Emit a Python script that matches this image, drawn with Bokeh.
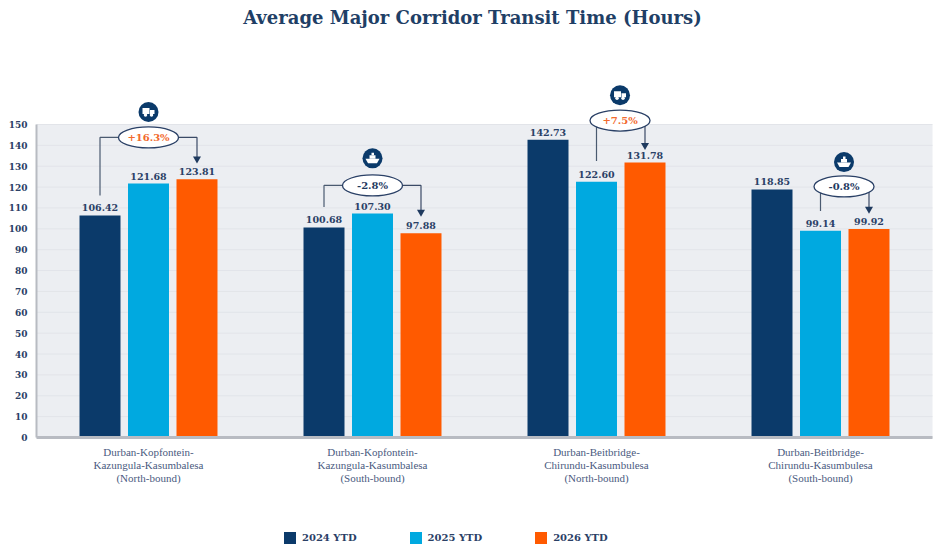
from bokeh.plotting import figure
from bokeh.embed import file_html
from bokeh.resources import INLINE
from bokeh.core.properties import value
from bokeh.models import Legend, LegendItem, FixedTicker, Range1d

title = "Average Major Corridor Transit Time (Hours)"
corridors = ["Durban-Kopfontein-\nKazungula-Kasumbalesa\n(North-bound)",
             "Durban-Kopfontein-\nKazungula-Kasumbalesa\n(South-bound)",
             "Durban-Beitbridge-\nChirundu-Kasumbulesa\n(North-bound)",
             "Durban-Beitbridge-\nChirundu-Kasumbulesa\n(South-bound)"]
series_names = ["2024 YTD", "2025 YTD", "2026 YTD"]
y2024 = [106.42, 100.68, 142.73, 118.85]
y2025 = [121.68, 107.30, 122.60, 99.14]
y2026 = [123.81, 97.88, 131.78, 99.92]
changes = ["+16.3%", "-2.8%", "+7.5%", "-0.8%"]
change_colors = ["#f26a2e", "#1f3a5f", "#f26a2e", "#1f3a5f"]
icon_kind = ["truck", "ship", "truck", "ship"]
callout_level = [143.8, 120.8, 151.9, 120.3]
callout_x = [0.5, 1.5, 2.605, 3.605]
start_bar = [0, 0, 1, 1]
line_bottom = [116.0, 110.5, 132.5, 108.5]
arrow_tip = [133.5, 108.0, 140.0, 109.5]
icon_level = [156.0, 133.8, 164.0, 132.0]
yticks = list(range(0, 151, 10))

NAVY, CYAN, ORANGE = "#0b3a6a", "#00a9e0", "#ff5a00"
INK = "#2a4066"
PX_X = 224.0
PX_Y = 313 / 150
W = 0.183
OFF = 0.2165

p = figure(output_backend="svg", toolbar_location=None, width=935, height=548,
           x_range=Range1d(-36 / PX_X, 899 / PX_X), y_range=Range1d(-111 / PX_Y, 437 / PX_Y),
           min_border=0, outline_line_color=None,
           background_fill_color="white", border_fill_color="white")

p.text([1.946], [201.3], text=[title], text_align="center", text_baseline="middle",
       text_font=value("DejaVu Serif"), text_font_style="bold", text_font_size="18px",
       text_color="#1f3f66")

p.quad(left=[0], right=[4], bottom=[0], top=[150], fill_color="#eceef2", line_color=None, level="image")

p.xgrid.visible = False
p.ygrid.visible = False
p.segment(x0=[0] * len(yticks), x1=[4] * len(yticks), y0=yticks, y1=yticks,
          line_color="#e2e4e9", line_width=1, level="image")

p.yaxis.fixed_location = 0
p.yaxis.ticker = FixedTicker(ticks=yticks)
p.yaxis.bounds = (0, 150)
p.yaxis.axis_line_color = "#b8bbc2"
p.yaxis.axis_line_width = 2
p.yaxis.major_tick_line_color = None
p.yaxis.minor_tick_line_color = None
p.yaxis.major_label_standoff = 3
p.yaxis.major_label_text_font = "DejaVu Serif"
p.yaxis.major_label_text_font_style = "bold"
p.yaxis.major_label_text_font_size = "9px"
p.yaxis.major_label_text_color = INK

centers = [i + 0.5 for i in range(len(corridors))]
p.xaxis.fixed_location = 0
p.xaxis.bounds = (0, 4)
p.xaxis.ticker = FixedTicker(ticks=centers)
p.xaxis.major_label_overrides = {c: t for c, t in zip(centers, corridors)}
p.xaxis.axis_line_color = "#b8bbc2"
p.xaxis.axis_line_width = 3
p.xaxis.major_tick_line_color = None
p.xaxis.minor_tick_line_color = None
p.xaxis.major_label_standoff = 2
p.xaxis.major_label_text_font = "Liberation Serif"
p.xaxis.major_label_text_font_size = "11px"
p.xaxis.major_label_text_color = "#4a5a80"
p.xaxis.major_label_text_line_height = 1.1

items = []
for k, (vals, col, name) in enumerate(zip([y2024, y2025, y2026], [NAVY, CYAN, ORANGE], series_names)):
    xs = [c + (k - 1) * OFF for c in centers]
    r = p.vbar(x=xs, top=vals, width=W, fill_color=col, line_color=None)
    items.append(LegendItem(label=name, renderers=[r]))
    p.text(x=xs, y=vals, text=[f"{v:.2f}" for v in vals], text_align="center", text_baseline="bottom",
           y_offset=-4, text_font=value("DejaVu Serif"), text_font_style="bold",
           text_font_size="9.5px", text_color=INK)

for i, c in enumerate(centers):
    lx = c + (start_bar[i] - 1) * OFF
    ax = c + OFF
    lvl = callout_level[i]
    p.line([lx, lx, callout_x[i]], [line_bottom[i], lvl, lvl], line_color="#4a5a70", line_width=1.2)
    p.line([callout_x[i], ax, ax], [lvl, lvl, arrow_tip[i]], line_color="#3a4a66", line_width=1.2)
    p.scatter([ax], [arrow_tip[i]], marker="inverted_triangle", size=8, fill_color="#1f3a5f", line_color=None)
    p.ellipse([callout_x[i]], [lvl], width=60, height=21, width_units="screen", height_units="screen",
              fill_color="white", line_color="#2a4066", line_width=1.3)
    p.text([callout_x[i]], [lvl], text=[changes[i]], text_align="center", text_baseline="middle",
           text_font=value("DejaVu Serif"), text_font_style="bold", text_font_size="10px",
           text_color=change_colors[i])
    ix, iy = callout_x[i], icon_level[i]
    p.scatter([ix], [iy], marker="circle", size=20, fill_color="#0b3a6a", line_color=None)
    if icon_kind[i] == "truck":
        p.quad(left=[ix - 6 / PX_X], right=[ix + 1 / PX_X], bottom=[iy - 2 / PX_Y], top=[iy + 4 / PX_Y],
               fill_color="white", line_color=None)
        p.quad(left=[ix + 1.5 / PX_X], right=[ix + 6 / PX_X], bottom=[iy - 2 / PX_Y], top=[iy + 2 / PX_Y],
               fill_color="white", line_color=None)
        p.scatter([ix - 3 / PX_X, ix + 3 / PX_X], [iy - 3 / PX_Y] * 2, marker="circle", size=3.5,
                  fill_color="white", line_color=None)
    else:
        p.patch([ix - 7 / PX_X, ix + 7 / PX_X, ix + 4.5 / PX_X, ix - 4.5 / PX_X],
                [iy - 0.5 / PX_Y, iy - 0.5 / PX_Y, iy - 5 / PX_Y, iy - 5 / PX_Y],
                fill_color="white", line_color=None)
        p.quad(left=[ix - 3 / PX_X], right=[ix + 3 / PX_X], bottom=[iy - 0.5 / PX_Y], top=[iy + 3 / PX_Y],
               fill_color="white", line_color=None)
        p.quad(left=[ix - 1 / PX_X], right=[ix + 1.5 / PX_X], bottom=[iy + 3 / PX_Y], top=[iy + 5.5 / PX_Y],
               fill_color="white", line_color=None)

legend = Legend(items=items, orientation="horizontal", location=(282, 3),
                background_fill_alpha=0, border_line_color=None, glyph_width=15, glyph_height=15,
                label_standoff=5, spacing=51, padding=0, margin=0,
                label_text_font="DejaVu Serif", label_text_font_style="bold",
                label_text_font_size="10px", label_text_color=INK)
p.add_layout(legend, "center")

open("out.html", "w").write(file_html(p, INLINE))
